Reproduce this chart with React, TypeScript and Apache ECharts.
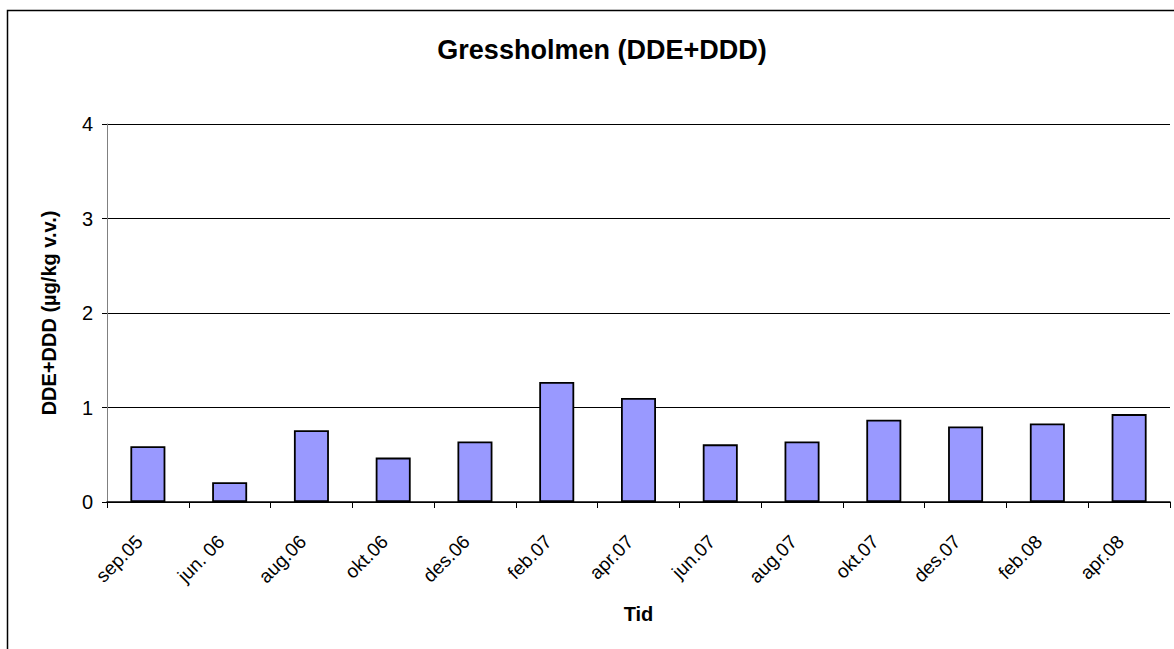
import React, { useEffect, useRef } from "react";
import * as echarts from "echarts";

const categories = ["sep.05", "jun. 06", "aug.06", "okt.06", "des.06", "feb.07", "apr.07", "jun.07", "aug.07", "okt.07", "des.07", "feb.08", "apr.08"];
const values = [0.59, 0.21, 0.76, 0.47, 0.64, 1.27, 1.1, 0.61, 0.64, 0.87, 0.8, 0.83, 0.93];
const yTicks = [0, 1, 2, 3, 4];
const titleText = "Gressholmen (DDE+DDD)";
const yName = "DDE+DDD (µg/kg v.v.)";
const xName = "Tid";

const FONT = "'Liberation Sans', Arial, sans-serif";

export default function App() {
  const ref = useRef<HTMLDivElement>(null);
  useEffect(() => {
    if (!ref.current) return;
    const chart = echarts.init(ref.current, null, { renderer: "svg" });
    chart.setOption({
      animation: false,
      backgroundColor: "#ffffff",
      textStyle: { fontFamily: FONT },
      graphic: [
        {
          type: "rect",
          shape: { x: 7.5, y: 10.5, width: 1300, height: 800 },
          style: { fill: "none", stroke: "#000000", lineWidth: 1.5 },
          silent: true,
        },
      ],
      title: {
        text: titleText,
        left: 597,
        textAlign: "center",
        top: 31,
        textStyle: { fontFamily: FONT, fontSize: 27, fontWeight: "bold", color: "#000" },
      },
      grid: { left: 107, top: 124, right: 4, bottom: 147, containLabel: false },
      xAxis: {
        type: "category",
        data: categories,
        name: xName,
        nameLocation: "middle",
        nameGap: 102,
        nameTextStyle: { fontFamily: FONT, fontSize: 20, fontWeight: "bold", color: "#000" },
        axisLine: { lineStyle: { color: "#000", width: 1.5 } },
        axisTick: { show: true, length: 6, lineStyle: { color: "#000", width: 1 } },
        axisLabel: { rotate: 45, fontSize: 19, color: "#000", margin: 28, padding: [0, 12, 0, 0], fontFamily: FONT },
        splitLine: { show: false },
      },
      yAxis: {
        type: "value",
        min: yTicks[0],
        max: yTicks[yTicks.length - 1],
        interval: 1,
        name: yName,
        nameLocation: "middle",
        nameGap: 48,
        nameTextStyle: { fontFamily: FONT, fontSize: 20, fontWeight: "bold", color: "#000" },
        axisLine: { show: true, lineStyle: { color: "#808080", width: 1 } },
        axisTick: { show: true, length: 5, lineStyle: { color: "#000", width: 1 } },
        axisLabel: { fontSize: 20, color: "#000", margin: 14, fontFamily: FONT },
        splitLine: { show: true, lineStyle: { color: "#000", width: 1 } },
      },
      series: [
        {
          type: "bar",
          data: values,
          barWidth: 35,
          itemStyle: { color: "#9999FF", borderColor: "#000", borderWidth: 1.8 },
        },
      ],
    });
    return () => chart.dispose();
  }, []);
  return <div ref={ref} style={{ position: "absolute", left: 0, top: 0, width: 1174, height: 649 }} />;
}
